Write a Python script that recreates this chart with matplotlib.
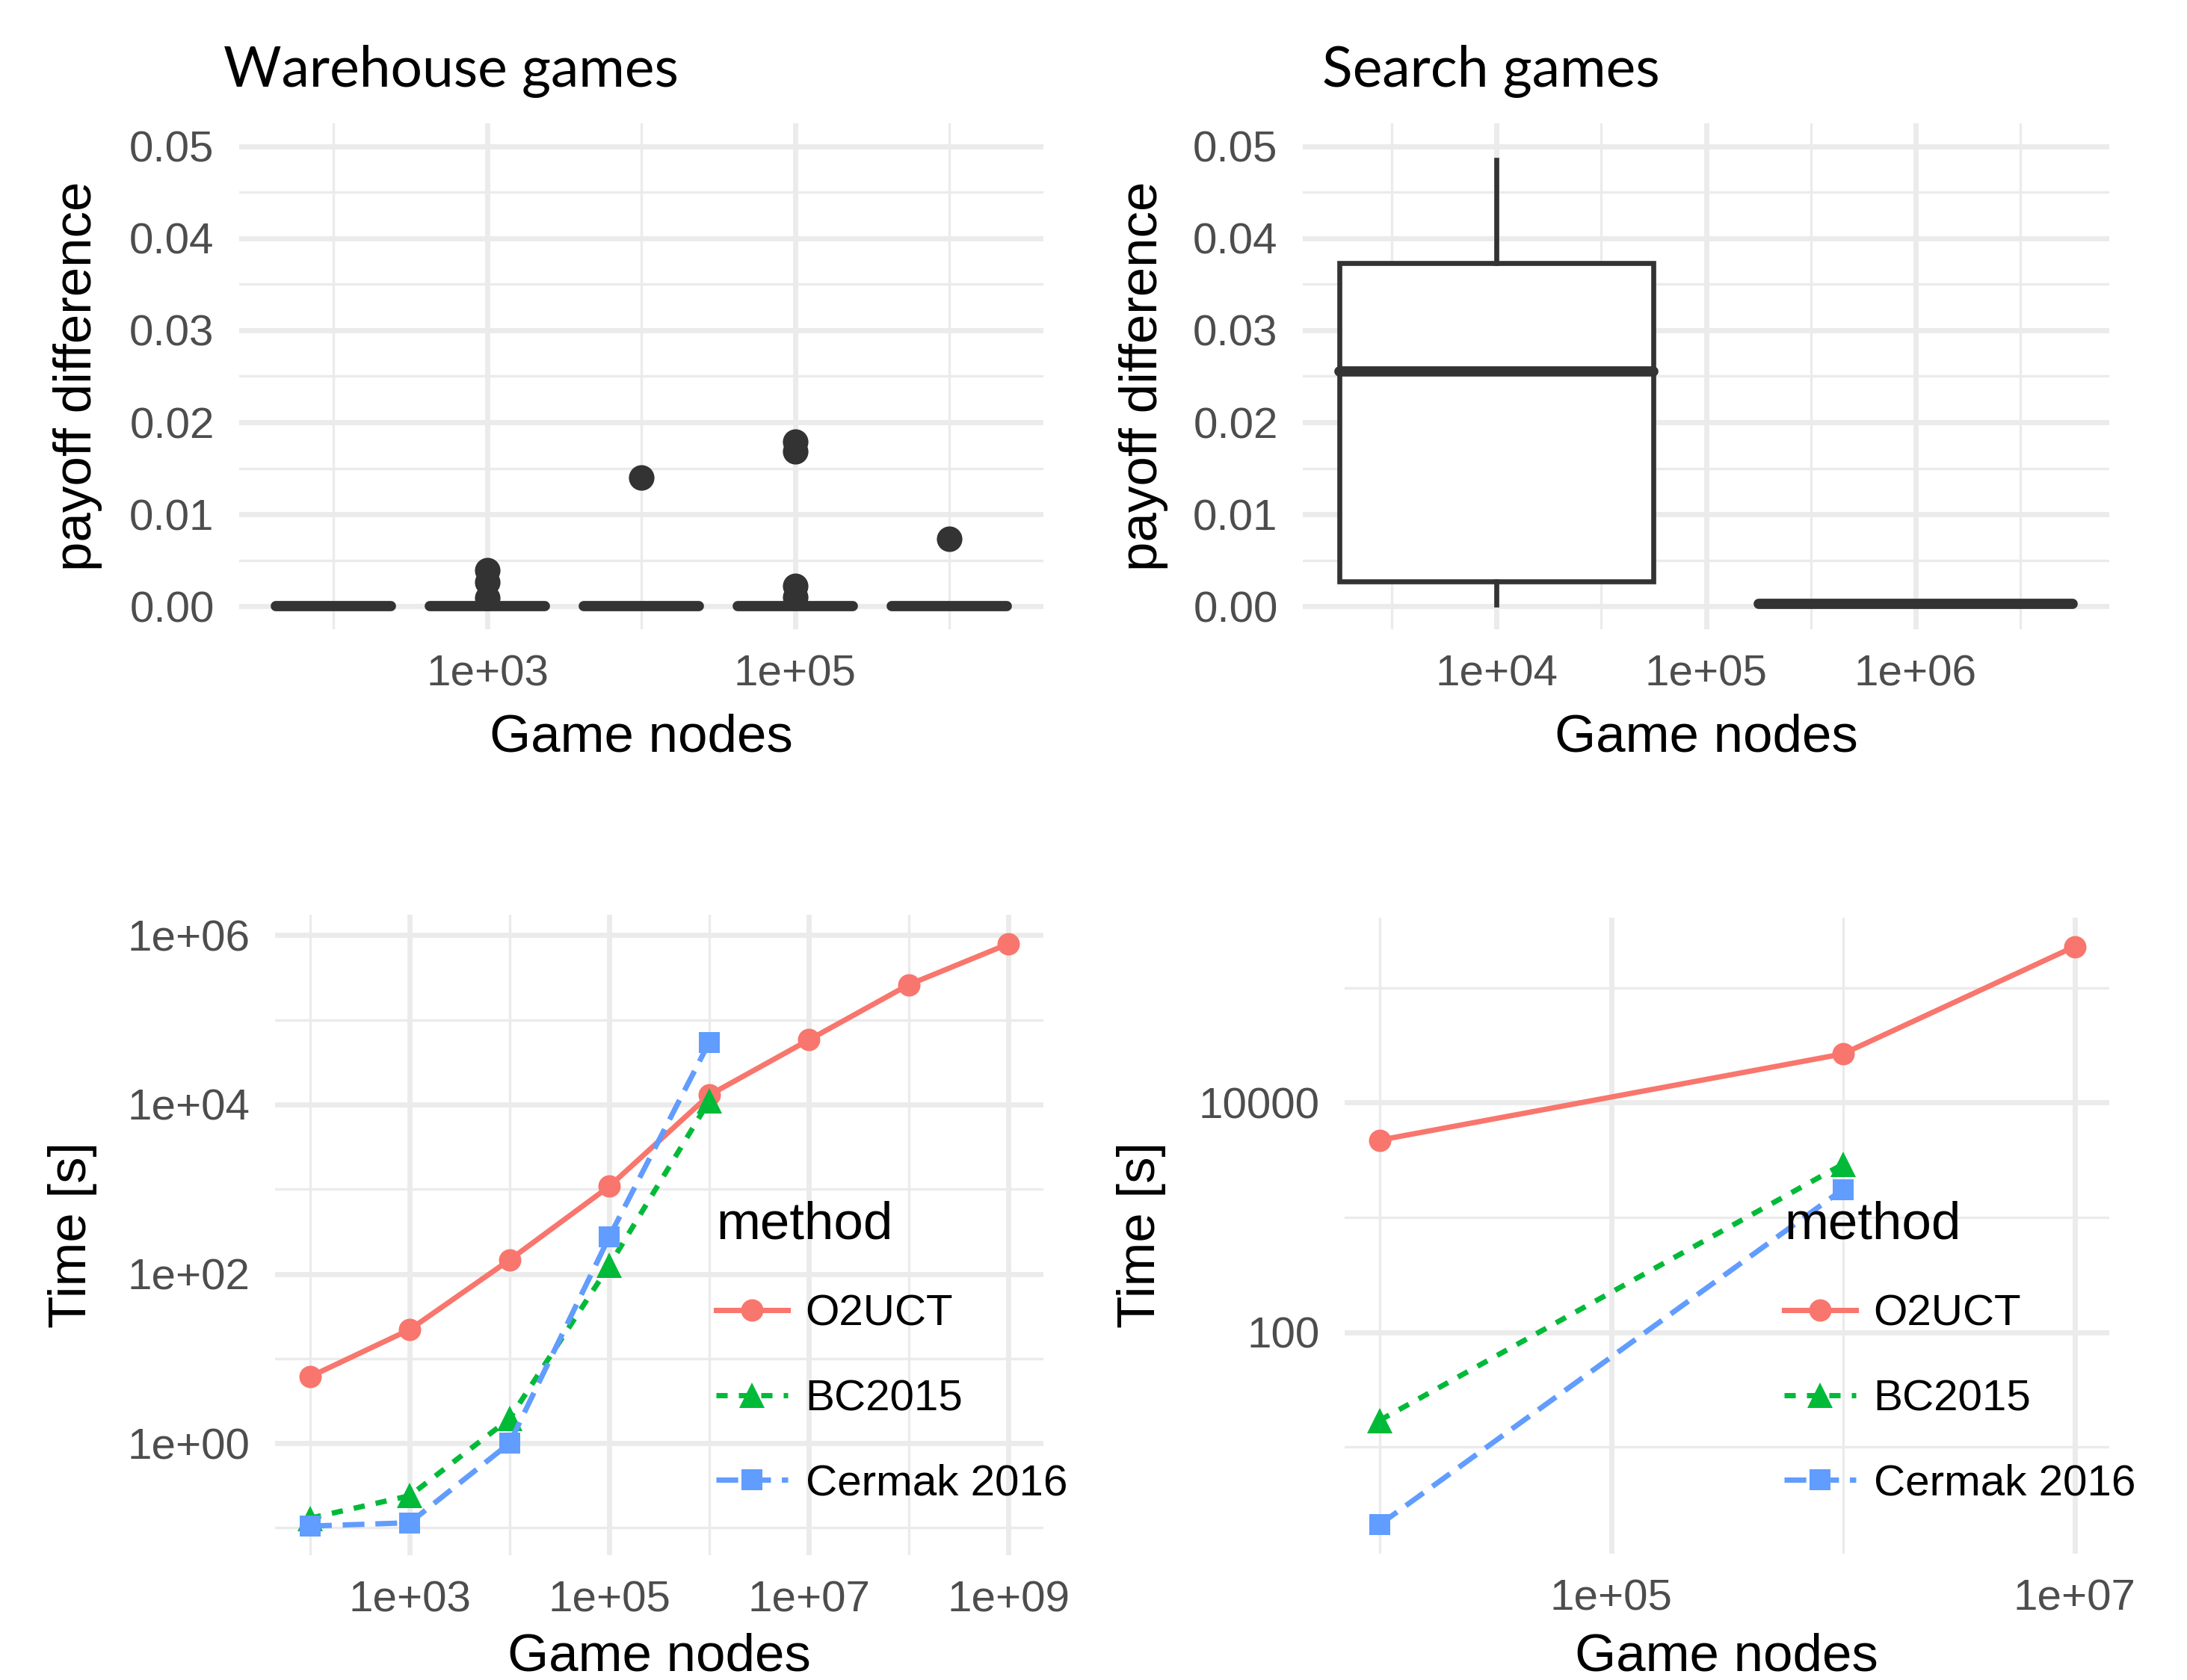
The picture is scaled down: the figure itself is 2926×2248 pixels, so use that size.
import numpy as np
import matplotlib
matplotlib.use("Agg")
import matplotlib.pyplot as plt
from matplotlib.lines import Line2D
from matplotlib.ticker import FixedLocator, NullFormatter

# ---- data ----
# warehouse games: payoff difference per game size (boxes are flat at zero)
wh_box_nodes = [1e2, 1e3, 1e4, 1e5, 1e6]
wh_box_med = [0.0, 0.0, 0.0, 0.0, 0.0]
wh_box_q1 = [0.0, 0.0, 0.0, 0.0, 0.0]
wh_box_q3 = [0.0, 0.0, 0.0, 0.0, 0.0]
wh_box_lo = [0.0, 0.0, 0.0, 0.0, 0.0]
wh_box_hi = [0.0, 0.0, 0.0, 0.0, 0.0]
wh_outliers = [[],
               [0.0039, 0.0026, 0.0009],
               [0.0140],
               [0.0179, 0.0168, 0.0022, 0.0010],
               [0.0073]]

# search games
se_box_nodes = [1e4, 1e6]
se_box_med = [0.0255, 0.0003]
se_box_q1 = [0.0027, 0.0003]
se_box_q3 = [0.0373, 0.0003]
se_box_lo = [0.0002, 0.0003]
se_box_hi = [0.0485, 0.0003]
se_outliers = [[], []]

# computation time, warehouse games
wh_nodes = [1e2, 1e3, 1e4, 1e5, 1e6, 1e7, 1e8, 1e9]
wh_o2uct = [6.1, 22, 146, 1080, 12900, 58000, 260000, 790000]
wh_bc2015 = [0.13, 0.24, 1.95, 126, 11000]
wh_cermak = [0.105, 0.115, 1.0, 275, 54000]

# computation time, search games
se_nodes = [1e4, 1e6, 1e7]
se_o2uct = [4700, 26500, 228000]
se_bc2015 = [17, 2900]
se_cermak = [2.1, 1750]

methods = ['O2UCT', 'BC2015', 'Cermak 2016']
colors = ['#F8766D', '#00BA38', '#619CFF']
markers = ['o', '^', 's']
msizes = [7.2, 8.0, 6.8]
dash_styles = ['-', (0, (3.6, 3.6)), (0, (7.0, 3.5))]
LW = 1.7

# ---- style ----
plt.rcParams['font.family'] = ['Liberation Sans', 'DejaVu Sans']
plt.rcParams['lines.scale_dashes'] = False
W, H = 2926, 2248
GRID = '#EBEBEB'
TICKC = '#4D4D4D'
BOXC = '#333333'

fig = plt.figure(figsize=(W / 300, H / 300), dpi=300)


def fx(px):
    return px / W


def fy(py):
    return 1 - py / H


def make_ax(left, right, top, bottom):
    ax = fig.add_axes([fx(left), fy(bottom), fx(right) - fx(left), fy(top) - fy(bottom)])
    for s in ax.spines.values():
        s.set_visible(False)
    ax.set_axisbelow(True)
    ax.tick_params(which='both', length=0, labelsize=14, labelcolor=TICKC)
    ax.tick_params(axis='y', pad=8)
    ax.tick_params(axis='x', pad=8)
    return ax


def set_grid(ax):
    ax.grid(which='major', color=GRID, lw=1.65)
    ax.grid(which='minor', color=GRID, lw=0.8)


def expand(lo, hi, f=0.05):
    d = (hi - lo) * f
    return lo - d, hi + d


def box_panel(ax, nodes, med, q1, q3, lo, hi, outl, xmaj, xmin):
    pos = np.log10(nodes)
    res = np.min(np.diff(pos))
    width = 0.75 * res
    stats = []
    for i in range(len(nodes)):
        stats.append(dict(med=med[i], q1=q1[i], q3=q3[i], whislo=lo[i],
                          whishi=hi[i], fliers=outl[i]))
    ax.bxp(stats, positions=pos, widths=width, patch_artist=True,
           showcaps=False, manage_ticks=False,
           boxprops=dict(facecolor='white', edgecolor=BOXC, lw=1.6),
           whiskerprops=dict(color=BOXC, lw=1.6),
           medianprops=dict(color=BOXC, lw=3.3, solid_capstyle='round'),
           flierprops=dict(marker='o', markerfacecolor=BOXC,
                           markeredgecolor=BOXC, markersize=7.2))
    ax.set_xlim(*expand(pos.min() - width / 2, pos.max() + width / 2))
    ax.set_ylim(*expand(0, 0.05))
    ax.xaxis.set_major_locator(FixedLocator(xmaj))
    ax.xaxis.set_minor_locator(FixedLocator(xmin))
    ax.set_xticklabels(['1e+%02d' % k for k in xmaj])
    ax.set_yticks([0, 0.01, 0.02, 0.03, 0.04, 0.05])
    ax.set_yticklabels(['%.2f' % v for v in [0, 0.01, 0.02, 0.03, 0.04, 0.05]])
    ax.yaxis.set_minor_locator(FixedLocator([0.005, 0.015, 0.025, 0.035, 0.045]))
    set_grid(ax)


def time_panel(ax, nodes, series, xmaj, xmin, ymaj, ymin, ylabels, leg_x):
    allx, ally = [], []
    for (vals, c, m, ms, ls) in zip(series, colors, markers, msizes, dash_styles):
        xs = nodes[:len(vals)]
        ax.plot(xs, vals, color=c, ls=ls, lw=LW, marker=m, ms=ms,
                markeredgewidth=0)
        allx += list(xs)
        ally += list(vals)
    ax.set_xscale('log')
    ax.set_yscale('log')
    xl = expand(np.log10(min(allx)), np.log10(max(allx)))
    yl = expand(np.log10(min(ally)), np.log10(max(ally)))
    ax.set_xlim(10 ** xl[0], 10 ** xl[1])
    ax.set_ylim(10 ** yl[0], 10 ** yl[1])
    ax.xaxis.set_major_locator(FixedLocator([10.0 ** k for k in xmaj]))
    ax.xaxis.set_minor_locator(FixedLocator([10.0 ** k for k in xmin]))
    ax.xaxis.set_minor_formatter(NullFormatter())
    ax.set_xticklabels(['1e+%02d' % k for k in xmaj])
    ax.yaxis.set_major_locator(FixedLocator([10.0 ** k for k in ymaj]))
    ax.yaxis.set_minor_locator(FixedLocator([10.0 ** k for k in ymin]))
    ax.yaxis.set_minor_formatter(NullFormatter())
    ax.set_yticklabels(ylabels)
    set_grid(ax)
    handles = [Line2D([], [], color=c, ls=ls, lw=LW, marker=m, ms=ms,
                      markeredgewidth=0)
               for c, m, ms, ls in zip(colors, markers, msizes, dash_styles)]
    leg = ax.legend(handles, methods, title='method', loc='upper left',
                    bbox_to_anchor=(fx(leg_x), fy(1606)),
                    bbox_transform=fig.transFigure, frameon=False,
                    fontsize=14, title_fontsize=17, handlelength=1.65,
                    handletextpad=0.4, labelspacing=1.02, borderpad=0,
                    borderaxespad=0, alignment='left')
    leg.set_zorder(10)


# ---- top row: payoff difference ----
ax1 = make_ax(320, 1396, 165, 842)
box_panel(ax1, wh_box_nodes, wh_box_med, wh_box_q1, wh_box_q3, wh_box_lo,
          wh_box_hi, wh_outliers, [3, 5], [2, 4, 6])

ax2 = make_ax(1743, 2822, 165, 842)
box_panel(ax2, se_box_nodes, se_box_med, se_box_q1, se_box_q3, se_box_lo,
          se_box_hi, se_outliers, [4, 5, 6], [3.5, 4.5, 5.5, 6.5])

# ---- bottom row: time ----
ax3 = make_ax(368, 1396, 1224, 2081)
time_panel(ax3, wh_nodes, [wh_o2uct, wh_bc2015, wh_cermak],
           [3, 5, 7, 9], [2, 4, 6, 8], [0, 2, 4, 6], [-1, 1, 3, 5],
           ['1e+00', '1e+02', '1e+04', '1e+06'], 958)

ax4 = make_ax(1799, 2822, 1228, 2079)
time_panel(ax4, se_nodes, [se_o2uct, se_bc2015, se_cermak],
           [5, 7], [4, 6], [2, 4], [1, 3, 5], ['100', '10000'], 2387)

# ---- titles and axis titles ----
tfont = ['Lato', 'DejaVu Sans']
fig.text(fx(299), fy(116), 'Warehouse games', fontsize=18, family=tfont,
         va='baseline', ha='left')
fig.text(fx(1769), fy(116), 'Search games', fontsize=18, family=tfont,
         va='baseline', ha='left')

fig.text(fx(858), fy(1005), 'Game nodes', fontsize=17, ha='center', va='baseline')
fig.text(fx(2283), fy(1005), 'Game nodes', fontsize=17, ha='center', va='baseline')
fig.text(fx(882), fy(2236), 'Game nodes', fontsize=17, ha='center', va='baseline')
fig.text(fx(2310), fy(2236), 'Game nodes', fontsize=17, ha='center', va='baseline')

fig.text(fx(104), fy(503), 'payoff difference', fontsize=17, rotation=90,
         ha='center', va='center')
fig.text(fx(1530), fy(503), 'payoff difference', fontsize=17, rotation=90,
         ha='center', va='center')
fig.text(fx(97), fy(1652), 'Time [s]', fontsize=17, rotation=90,
         ha='center', va='center')
fig.text(fx(1527), fy(1652), 'Time [s]', fontsize=17, rotation=90,
         ha='center', va='center')

fig.savefig('out.png', dpi=300, facecolor='white')
